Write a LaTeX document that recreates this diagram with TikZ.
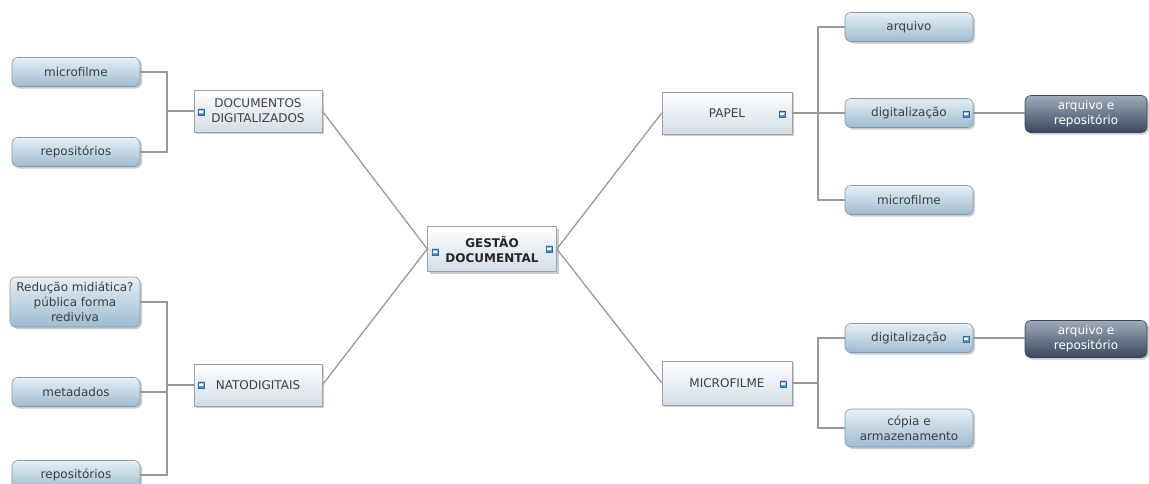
\documentclass[tikz,border=0pt]{standalone}
\usepackage{fontspec}
\setmainfont{DejaVu Sans}
\usetikzlibrary{shadows}
\definecolor{txt}{HTML}{404040}
\definecolor{conncol}{HTML}{999999}
\definecolor{subtop}{HTML}{E6EFF5}
\definecolor{subbot}{HTML}{9DBBD0}
\definecolor{subline}{HTML}{8398A8}
\definecolor{toptop}{HTML}{FFFFFF}
\definecolor{topbot}{HTML}{D2DDE8}
\definecolor{topline}{HTML}{9AA3AC}
\definecolor{darktop}{HTML}{A0AAB8}
\definecolor{darkbot}{HTML}{3A475D}
\definecolor{icontop}{HTML}{A8D0F2}
\definecolor{iconbot}{HTML}{3A7CC4}
\begin{document}
\begin{tikzpicture}[x=1pt,y=-1pt,
  every node/.style={font=\fontsize{12}{15}\selectfont, text=txt, align=center, inner sep=0pt},
  myshadow/.style={drop shadow={shadow xshift=2pt, shadow yshift=-2pt, fill=black!40, opacity=0.5}},
  topicbox/.style={rectangle, draw=topline, line width=0.6pt, top color=toptop, bottom color=topbot,
    minimum width=128pt, minimum height=42pt, myshadow},
  centralbox/.style={topicbox, minimum width=129pt, minimum height=45pt, font=\fontsize{12}{15}\selectfont\bfseries, text=black!85},
  subbox/.style={rectangle, rounded corners=6pt, draw=subline, line width=0.6pt, top color=subtop, bottom color=subbot,
    minimum width=128pt, minimum height=29pt, myshadow},
  darkbox/.style={rectangle, rounded corners=6pt, draw=darkbot, line width=0.6pt, top color=darktop, bottom color=darkbot,
    minimum width=122pt, minimum height=37pt, text=white, myshadow},
  iconbox/.style={rectangle, minimum width=6.5pt, minimum height=6.5pt, draw=iconbot!85!black, line width=0.4pt,
    top color=icontop, bottom color=iconbot,
    path picture={\draw[white, line width=1.1pt] ([xshift=1.2pt]path picture bounding box.west) -- ([xshift=-1.2pt]path picture bounding box.east);}},
  conn/.style={draw=conncol, line width=1.3pt}
]
\useasboundingbox (0,0) rectangle (1149,483);
\clip (0,0) rectangle (1149,483);

% central
\node[centralbox] (gest) at (492,249) {GESTÃO\\DOCUMENTAL};
\node[iconbox] (gicL) at (435,252) {};
\node[iconbox] (gicR) at (549,249) {};

% left top
\node[topicbox] (doc) at (258,111) {DOCUMENTOS\\DIGITALIZADOS};
\node[iconbox] (docic) at (201,112) {};
\node[subbox] (micA) at (76,72) {microfilme};
\node[subbox] (repA) at (76,152) {repositórios};
\coordinate (jl1) at (167,111);

% left bottom
\node[topicbox] (nato) at (258,385) {NATODIGITAIS};
\node[iconbox] (natoic) at (201,385) {};
\node[subbox, minimum width=130pt, minimum height=50pt] (red) at (75,302) {Redução midiática?\\pública forma\\rediviva};
\node[subbox] (met) at (76,392) {metadados};
\node[subbox] (repB) at (76,475) {repositórios};
\coordinate (jl2) at (167,385);

% right top
\node[topicbox, minimum width=130pt] (papel) at (727,113) {PAPEL};
\node[iconbox] (papic) at (782,114) {};
\node[subbox] (arq) at (909,27) {arquivo};
\node[subbox] (digA) at (909,113) {digitalização};
\node[iconbox] (digAic) at (966,114) {};
\node[subbox] (micB) at (909,200) {microfilme};
\node[darkbox] (arA) at (1086,114) {arquivo e\\repositório};
\coordinate (jr1) at (818,113);

% right bottom
\node[topicbox, minimum width=130pt, minimum height=44pt] (micro) at (727,383) {MICROFILME};
\node[iconbox] (microic) at (783,384) {};
\node[subbox] (digB) at (909,338) {digitalização};
\node[iconbox] (digBic) at (966,339) {};
\node[subbox, minimum height=38pt] (cop) at (909,428) {cópia e\\armazenamento};
\node[darkbox] (arB) at (1086,339) {arquivo e\\repositório};
\coordinate (jr2) at (818,383);

% connectors
\draw[conn] (gest.west) -- (doc.east);
\draw[conn] (gest.west) -- (nato.east);
\draw[conn] (gest.east) -- (papel.west);
\draw[conn] (gest.east) -- (micro.west);

\draw[conn] (micA.east) -| (jl1) |- (repA.east);
\draw[conn] (jl1) -- (doc.west);

\draw[conn] (red.east) -| (jl2) |- (repB.east);
\draw[conn] (met.east) -- (met.east -| jl2);
\draw[conn] (jl2) -- (nato.west);

\draw[conn] (arq.west) -| (jr1) |- (micB.west);
\draw[conn] (papel.east) -- (digA.west);
\draw[conn] (digA.east) -- (digA.east -| arA.west);

\draw[conn] (digB.west) -| (jr2) |- (cop.west);
\draw[conn] (micro.east) -- (jr2);
\draw[conn] (digB.east) -- (digB.east -| arB.west);
\end{tikzpicture}
\end{document}
